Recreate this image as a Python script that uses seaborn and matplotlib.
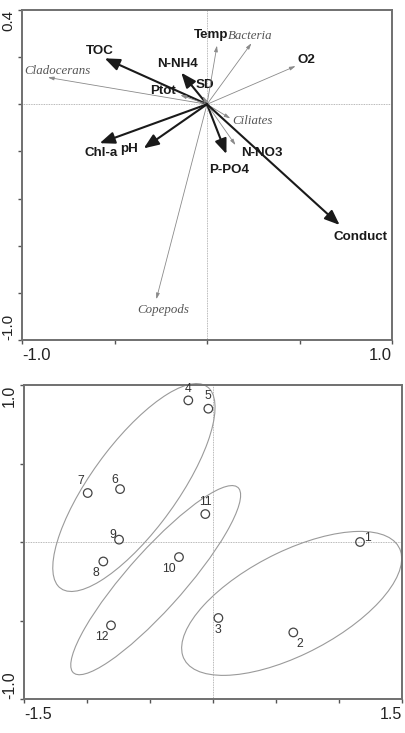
import matplotlib
matplotlib.use("Agg")
import matplotlib.pyplot as plt
from matplotlib.patches import Ellipse
import numpy as np
import pandas as pd
import seaborn as sns

# ---------------------------------------------------------------
# top panel: RDA biplot (environmental variables + species)
env_names = ["TOC", "N-NH4", "SD", "Ptot", "Temp", "O2",
             "Chl-a", "pH", "P-PO4", "N-NO3", "Conduct"]
env_x = [-0.553, -0.139, -0.023, -0.144, 0.054, 0.479,
         -0.580, -0.342, 0.105, 0.154, 0.717]
env_y = [0.195, 0.134, 0.035, 0.039, 0.249, 0.162,
         -0.165, -0.187, -0.211, -0.173, -0.512]
env_bold = [True, True, False, False, False, False,
            True, True, True, False, True]

spp_names = ["Bacteria", "Cladocerans", "Ciliates", "Copepods"]
spp_x = [0.240, -0.860, 0.126, -0.274]
spp_y = [0.259, 0.114, -0.060, -0.827]

# bottom panel: site scores and group envelopes
site_ids = ["1", "2", "3", "4", "5", "6", "7", "8", "9", "10", "11", "12"]
site_x = [1.169, 0.639, 0.044, -0.195, -0.036, -0.737,
          -0.994, -0.870, -0.745, -0.269, -0.060, -0.809]
site_y = [0.000, -0.576, -0.484, 0.902, 0.849, 0.337,
          0.312, -0.124, 0.015, -0.096, 0.178, -0.531]

ell_cx = [-0.627, -0.454, 0.626]
ell_cy = [0.347, -0.243, -0.391]
ell_w = [1.739, 1.763, 1.854]
ell_h = [0.625, 0.405, 0.677]
ell_ang = [46.0, 41.4, 21.0]

# label offsets in pixels (dx, dy) from arrow tip / point
ENV_OFF = {"TOC": (-5, 7), "N-NH4": (-4, 9), "SD": (2, 11), "Ptot": (-17, 4),
           "Temp": (-6, 11), "O2": (11, 6), "Chl-a": (1, -10), "pH": (-15, -1),
           "P-PO4": (3, -16), "N-NO3": (26, -8), "Conduct": (21, -12)}
SPP_OFF = {"Bacteria": (-1, 7), "Cladocerans": (10, 6), "Ciliates": (22, -3),
           "Copepods": (7, -11)}
SITE_OFF = {"1": (7, 4), "2": (7, -12), "3": (0, -12), "4": (0, 11), "5": (0, 13),
            "6": (-5, 9), "7": (-7, 12), "8": (-7, -12), "9": (-6, 5),
            "10": (-10, -12), "11": (0, 12), "12": (-9, -12)}

sns.set_theme(style="ticks")
plt.rcParams["font.family"] = ["Liberation Sans", "DejaVu Sans"]

fig = plt.figure(figsize=(4.05, 7.33), dpi=100)
ax1 = fig.add_axes([22 / 405, 393 / 733, 370 / 405, 330 / 733])
ax2 = fig.add_axes([24 / 405, 34 / 733, 377.7 / 405, 314 / 733])


def style_axes(ax, xlim, ylim, xticks, yticks, xlab, ylab, xfs, yfs):
    ax.set_xlim(*xlim)
    ax.set_ylim(*ylim)
    for s in ax.spines.values():
        s.set_color("#707070")
        s.set_linewidth(1.4)
    ax.set_xticks(xticks)
    ax.set_yticks(yticks)
    ax.set_xticklabels([xlab[0]] + [""] * (len(xticks) - 2) + [xlab[1]], fontsize=xfs)
    ax.set_yticklabels([ylab[0]] + [""] * (len(yticks) - 2) + [ylab[1]],
                       fontsize=yfs, rotation=90)
    xl = ax.get_xticklabels()
    xl[0].set_ha("left")
    xl[-1].set_ha("right")
    yl = ax.get_yticklabels()
    yl[0].set_va("bottom")
    yl[-1].set_va("top")
    for t in yl:
        t.set_ha("right")
    ax.tick_params(direction="out", length=3, width=1, color="#555",
                   labelcolor="#222")
    ax.tick_params(axis="x", pad=3)
    ax.tick_params(axis="y", pad=2)
    ax.axhline(0, color="#a0a0a0", lw=0.6, ls=(0, (1, 1)), zorder=0)
    ax.axvline(0, color="#a0a0a0", lw=0.6, ls=(0, (1, 1)), zorder=0)


style_axes(ax1, (-1.0, 1.0), (-1.0, 0.4), [-1.0, -0.5, 0.0, 0.5, 1.0],
           np.arange(-1.0, 0.41, 0.2), ("-1.0", "1.0"), ("-1.0", "0.4"), 12, 11)
style_axes(ax2, (-1.5, 1.5), (-1.0, 1.0), np.arange(-1.5, 1.51, 0.5),
           np.arange(-1.0, 1.01, 0.5), ("-1.5", "1.5"), ("-1.0", "1.0"), 11.5, 11.5)

# species arrows (thin, grey, italic serif labels)
for name, x, y in zip(spp_names, spp_x, spp_y):
    ax1.annotate("", xy=(x, y), xytext=(0, 0),
                 arrowprops=dict(arrowstyle="-|>,head_length=0.5,head_width=0.15",
                                 lw=0.6, color="#8a8a8a", shrinkA=0, shrinkB=0,
                                 mutation_scale=7))
    ax1.annotate(name, xy=(x, y), xytext=SPP_OFF[name], textcoords="offset pixels",
                 ha="center", va="center", fontsize=9.3, style="italic",
                 family=["Liberation Serif", "DejaVu Serif"], color="#555")

# environmental arrows
for name, x, y, bold in zip(env_names, env_x, env_y, env_bold):
    if bold:
        props = dict(arrowstyle="-|>,head_length=0.75,head_width=0.3",
                     lw=1.5, color="#1a1a1a", shrinkA=0, shrinkB=0, mutation_scale=12)
    else:
        props = dict(arrowstyle="-|>,head_length=0.5,head_width=0.15",
                     lw=0.6, color="#8a8a8a", shrinkA=0, shrinkB=0, mutation_scale=7)
    ax1.annotate("", xy=(x, y), xytext=(0, 0), arrowprops=props)
    ax1.annotate(name, xy=(x, y), xytext=ENV_OFF[name], textcoords="offset pixels",
                 ha="center", va="center", fontsize=9.6, fontweight="bold",
                 color="#1a1a1a")

# sites
sites = pd.DataFrame({"site": site_ids, "x": site_x, "y": site_y})
for cx, cy, w, h, a in zip(ell_cx, ell_cy, ell_w, ell_h, ell_ang):
    ax2.add_patch(Ellipse((cx, cy), w, h, angle=a, fill=False,
                          edgecolor="#9a9a9a", lw=0.8, clip_on=False))
sns.scatterplot(data=sites, x="x", y="y", ax=ax2, marker="o", s=38,
                facecolor="none", edgecolor="#444", linewidth=0.9, legend=False)
for _, r in sites.iterrows():
    ax2.annotate(r["site"], xy=(r["x"], r["y"]), xytext=SITE_OFF[r["site"]],
                 textcoords="offset pixels", ha="center", va="center",
                 fontsize=8.8, color="#333")
ax1.set_xlabel("")
ax1.set_ylabel("")
ax2.set_xlabel("")
ax2.set_ylabel("")

fig.savefig("out.png", dpi=100)
